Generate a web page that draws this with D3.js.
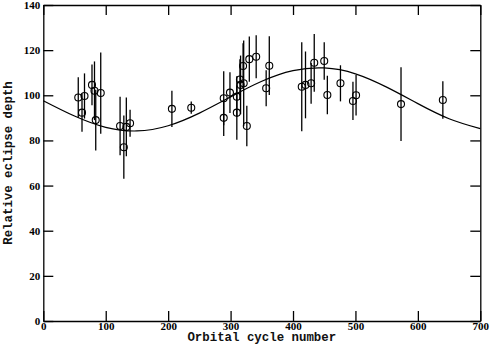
<!DOCTYPE html>
<meta charset="utf-8">
<script src="https://d3js.org/d3.v7.min.js"></script>
<style>
  body { margin: 0; background: #fff; }
  .tick text { font-family: "Liberation Serif", serif; font-weight: bold; font-size: 11px; fill: #000; }
  .title { font-family: "Liberation Mono", monospace; font-weight: bold; font-size: 12.4px; fill: #111; }
</style>
<svg id="chart"></svg>
<script>

// observations: orbital cycle, relative eclipse depth, error
var cycles = [56, 62, 66, 78, 82, 84, 92, 123, 129, 133, 139, 206, 237, 289, 289, 299,
  310, 310, 315, 316, 320, 321, 326, 330, 341, 357, 362, 414, 420, 429, 434, 450, 455,
  476, 496, 501, 573, 640];
var depths = [99, 92.3, 99.7, 104.6, 102, 89, 101, 86.4, 77, 86, 87.6, 94, 94.5, 98.7, 90, 101.2,
  99.4, 92.3, 107, 104.6, 113, 105.3, 86.4, 116, 117.1, 103.1, 113.1, 103.8, 104.6, 105.3, 114.4, 115.2, 100.1,
  105.3, 97.5, 100, 96.1, 97.9];
var errors = [9, 8.5, 10, 9, 13, 13.5, 18, 13, 14, 13, 6, 8, 2.7, 12, 8, 9,
  9, 12, 9, 13, 10, 19, 9, 10, 9.5, 8, 13, 19.7, 14.8, 9, 12.8, 8.3, 8.5,
  8, 8.5, 9, 16.3, 8.3];

// fitted curve
var fitCycles = [0, 50, 100, 150, 200, 250, 300, 350, 400, 450, 500, 550, 600, 650, 700];
var fitDepths = [97.6, 90.8, 85.8, 84.2, 86.5, 92.1, 99.3, 106.2, 110.9, 112.1, 109.5, 103.6, 96.3, 89.6, 85.2];

var xTicks = [0, 100, 200, 300, 400, 500, 600, 700];
var yTicks = [0, 20, 40, 60, 80, 100, 120, 140];

var W = 493, H = 354;
var margin = { top: 5, right: 12.7, bottom: 33, left: 43.3 };
var width = W - margin.left - margin.right,
    height = H - margin.top - margin.bottom;

var svg = d3.select("#chart").attr("width", W).attr("height", H);
var g = svg.append("g").attr("transform", "translate(" + margin.left + "," + margin.top + ")");

var x = d3.scaleLinear().domain([0, 700]).range([0, width]);
var y = d3.scaleLinear().domain([0, 140]).range([height, 0]);

function styleAxis(sel) {
  sel.select(".domain").attr("stroke", "#000").attr("stroke-width", 1.3);
  sel.selectAll(".tick line").attr("stroke", "#000").attr("stroke-width", 1.3);
}

g.append("g")
  .attr("transform", "translate(0," + height + ")")
  .call(d3.axisBottom(x).tickValues(xTicks).tickSizeInner(-10).tickSizeOuter(0).tickPadding(1))
  .call(styleAxis);

g.append("g")
  .call(d3.axisTop(x).tickValues(xTicks).tickSizeInner(-10).tickSizeOuter(0).tickFormat(""))
  .call(styleAxis);

g.append("g")
  .call(d3.axisLeft(y).tickValues(yTicks).tickSizeInner(-10).tickSizeOuter(0).tickPadding(3))
  .call(styleAxis);

g.append("g")
  .attr("transform", "translate(" + width + ",0)")
  .call(d3.axisRight(y).tickValues(yTicks).tickSizeInner(-10).tickSizeOuter(0).tickFormat(""))
  .call(styleAxis);

svg.selectAll(".tick text").attr("font-family", null).attr("font-size", null);

// fitted curve
var line = d3.line()
  .x(function (d, i) { return x(fitCycles[i]); })
  .y(function (d) { return y(d); })
  .curve(d3.curveNatural);

g.append("path")
  .datum(fitDepths)
  .attr("fill", "none")
  .attr("stroke", "#000")
  .attr("stroke-width", 1.2)
  .attr("d", line);

// error bars
g.append("g").selectAll("line")
  .data(cycles)
  .enter().append("line")
    .attr("x1", function (d) { return x(d); })
    .attr("x2", function (d) { return x(d); })
    .attr("y1", function (d, i) { return y(depths[i] + errors[i]); })
    .attr("y2", function (d, i) { return y(depths[i] - errors[i]); })
    .attr("stroke", "#000")
    .attr("stroke-width", 1.3);

// points
g.append("g").selectAll("circle")
  .data(cycles)
  .enter().append("circle")
    .attr("cx", function (d) { return x(d); })
    .attr("cy", function (d, i) { return y(depths[i]); })
    .attr("r", 3.5)
    .attr("fill", "none")
    .attr("stroke", "#000")
    .attr("stroke-width", 1.1);

// axis titles
svg.append("text")
  .attr("class", "title")
  .attr("x", margin.left + width / 2)
  .attr("y", 341)
  .attr("text-anchor", "middle")
  .text("Orbital cycle number");

svg.append("text")
  .attr("class", "title")
  .attr("transform", "translate(12," + (margin.top + height / 2) + ") rotate(-90)")
  .attr("text-anchor", "middle")
  .text("Relative eclipse depth");

</script>
